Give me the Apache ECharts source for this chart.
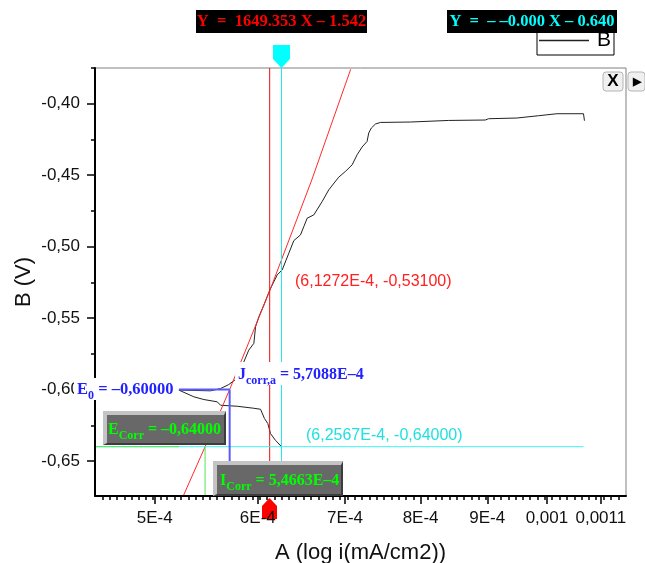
<!DOCTYPE html>
<html>
<head>
<meta charset="utf-8">
<style>html,body{margin:0;padding:0;background:#fff}#c{width:645px;height:563px}</style>
<script src="https://cdn.jsdelivr.net/npm/echarts@6/dist/echarts.min.js"></script>
</head>
<body>
<div id="c"></div>
<script>
// Values (x = current in mA/cm2, y = potential in V)
const curveX = [6.2567,6.190,6.136,6.107,6.071,6.029,5.958,5.786,5.618,5.585,5.455,5.359,5.219,5.22,5.519,5.618,5.700,5.768,5.847,5.905,5.958,5.976,6.011,6.064,6.128,6.209,6.264,6.338,6.394,6.470,6.508,6.547,6.624,6.722,6.801,6.922,7.004,7.088,7.151,7.214,7.278,7.299,7.333,7.386,7.451,7.857,8.406,8.968,9.021,9.484,9.853,10.178,10.668,10.686];
const curveY = [-0.6400,-0.6355,-0.6308,-0.6238,-0.6203,-0.6138,-0.6131,-0.6117,-0.6110,-0.6086,-0.6070,-0.6051,-0.6004,-0.6000,-0.6009,-0.5993,-0.5965,-0.5930,-0.5817,-0.5724,-0.5677,-0.5561,-0.5491,-0.5409,-0.5304,-0.5198,-0.5163,-0.5046,-0.4958,-0.4918,-0.4860,-0.4801,-0.4778,-0.4685,-0.4603,-0.4514,-0.4474,-0.4428,-0.4357,-0.4303,-0.4264,-0.4205,-0.4170,-0.4142,-0.4131,-0.4128,-0.4117,-0.4114,-0.4105,-0.4100,-0.4084,-0.4070,-0.4070,-0.4119];
const fitX = [5.26,5.4663,5.7088,6.1272,6.6,7.07];
const fitY = [-0.6744,-0.6400,-0.6000,-0.5310,-0.4534,-0.3759];
const xMin = 4.5e-4, xMax = 1.15e-3, yMin = -0.6745, yMax = -0.375;
const xTickValues = [5e-4,6e-4,7e-4,8e-4,9e-4,1e-3,1.1e-3];
const xTickLabels = ['5E-4','6E-4','7E-4','8E-4','9E-4','0,001','0,0011'];
const yTickValues = [-0.65,-0.60,-0.55,-0.50,-0.45,-0.40];
const yTickLabels = ['-0,65','-0,60','-0,55','-0,50','-0,45','-0,40'];
const yMinorTicks = [-0.625,-0.575,-0.525,-0.475,-0.425,-0.375];
const xMinorTicks = [4.56,4.62,4.68,4.74,4.80,4.86,4.92,4.98,5.05,5.11,5.18,5.24,5.31,5.38,5.44,5.51,5.58,5.65,5.73,5.80,5.87,5.95,6.02,6.10,6.18,6.26,6.34,6.42,6.51,6.59,6.68,6.76,6.85,6.94,7.03,7.12,7.21,7.31,7.40,7.50,7.60,7.69,7.79,7.90,8.00,8.10,8.21,8.31,8.42,8.53,8.64,8.75,8.87,8.98,9.10,9.22,9.34,9.46,9.58,9.71,9.84,9.96,10.09,10.23,10.36,10.50,10.63,10.77,10.91,11.05,11.20,11.35];
const E0 = -0.60, Ecorr = -0.64, Icorr = 5.4663, IcorrA = 5.7088, redX = 6.1272, cyanX = 6.2567;

const scale = v => v * 1e-4;
const pairs = (xs, ys) => xs.map((x, i) => [scale(x), ys[i]]);
const seg = (name, color, width, data) => ({name, type:'line', data, showSymbol:false, symbol:'none', silent:true, clip:true,
  lineStyle:{color, width}, itemStyle:{color}, z:3, animation:false});

const sans = '"Liberation Sans", Arial, sans-serif';
const serif = '"Liberation Serif", "Times New Roman", serif';

const chart = echarts.init(document.getElementById('c'), null, {renderer:'canvas'});

function badge(x, y, w, h, bg, fg, text) {
  return [
    {type:'rect', z:100, shape:{x, y, width:w, height:h}, style:{fill:bg}},
    {type:'text', z:101, x:x+w/2, y:y+h/2, style:{text, fill:fg, font:'bold 16.5px '+serif, align:'center', verticalAlign:'middle'}}
  ];
}
function richText(x, y, w, h, color, bg, a, sub, b, size) {
  const els = [];
  if (bg) els.push({type:'rect', z:100, shape:{x:x-3, y, width:w, height:h}, style:{fill:bg}});
  els.push({type:'text', z:101, x, y:y+h/2, style:{
    text:`{a|${a}}{s|${sub}}{a|${b}}`, verticalAlign:'middle', align:'left',
    rich:{
      a:{fill:color, font:`bold ${size}px ${serif}`, lineHeight:18, verticalAlign:'bottom'},
      s:{fill:color, font:`bold ${Math.round(size*0.72)}px ${serif}`, lineHeight:13, verticalAlign:'bottom', padding:[0,0,-4,0]}
    }}});
  return els;
}
function bevelBox(x, y, w, h) {
  return [
    {type:'rect', z:100, shape:{x, y, width:w, height:h}, style:{fill:'#3c3c3c'}},
    {type:'polygon', z:100, shape:{points:[[x,y],[x+w,y],[x+w-2,y+4],[x+4,y+4],[x+4,y+h-2],[x,y+h]]}, style:{fill:'#c4c4c4'}},
    {type:'rect', z:100, shape:{x:x+4, y:y+4, width:w-6, height:h-6}, style:{fill:'#686868'}}
  ];
}
const btn = (x, w, glyph, size) => [
  {type:'rect', z:100, shape:{x, y:72, width:w, height:19, r:3}, style:{fill:'#f0f0f0', stroke:'#b4b4b4', lineWidth:1}},
  {type:'text', z:101, x:x+w/2, y:81.5, style:{text:glyph, fill:'#000', font:`bold ${size}px ${sans}`, align:'center', verticalAlign:'middle'}}
];

const graphics = [
  ...badge(196, 10, 171, 23, '#000', '#ff0000', 'Y  =  1649.353 X \u2013 1.542'),
  ...badge(447, 10, 170, 23, '#000', '#00ffff', 'Y  =  \u2013 \u20130.000 X \u2013 0.640'),
  {type:'polygon', z:1, shape:{points:[[273,45],[290,45],[290,59],[281.5,68],[273,59]]}, style:{fill:'#00ffff'}},
  {type:'polygon', z:1, shape:{points:[[269.5,498],[277,506],[277,519],[262,519],[262,506]]}, style:{fill:'#ff0000'}},
  ...btn(603, 20, 'X', 17),
  ...btn(628, 17, '\u25B6', 11),
  ...richText(77, 378, 100, 22, '#2222ff', '#fff', 'E', '0', ' = \u20130,60000', 16.5),
  ...richText(238, 362, 128, 23, '#2222ff', '#fff', 'J', 'corr,a', ' = 5,7088E\u20134', 16),
  ...bevelBox(103, 411, 123, 34),
  ...richText(108, 413, 115, 32, '#00ff00', null, 'E', 'Corr', ' = \u20130,64000', 16),
  ...bevelBox(213, 461, 130, 35),
  ...richText(220, 463, 122, 33, '#00ff00', null, 'I', 'Corr', ' = 5,4663E\u20134', 16),
  {type:'text', z:50, x:295, y:282, style:{text:'(6,1272E-4, -0,53100)', fill:'#ff2020', font:'16px '+sans, align:'left', verticalAlign:'middle'}},
  {type:'text', z:50, x:306, y:436, style:{text:'(6,2567E-4, -0,64000)', fill:'#20e0e0', font:'16px '+sans, align:'left', verticalAlign:'middle'}}
];

chart.setOption({
  animation:false,
  backgroundColor:'#fff',
  grid:{left:95, top:68, right:19, bottom:67, show:true, borderColor:'#808080', borderWidth:1, backgroundColor:'transparent', outerBoundsMode:'none'},
  legend:{data:[{name:'B', icon:'rect'}], left:537, top:25, itemWidth:50, itemHeight:1.5, itemGap:0, padding:[5,3,4,2],
    backgroundColor:'#fff', borderColor:'#000', borderWidth:1,
    textStyle:{fontFamily:sans, fontSize:21, color:'#000', padding:[0,0,0,3]}},
  xAxis:[
    {type:'log', logBase:10, min:xMin, max:xMax, position:'bottom', z:5, name:'A (log i(mA/cm2))', nameLocation:'middle', nameGap:46,
     nameTextStyle:{fontFamily:sans, fontSize:22, color:'#111'},
     splitLine:{show:false}, minorTick:{show:false},
     axisLine:{show:true, lineStyle:{color:'#000', width:2}},
     axisTick:{show:true, length:8, inside:false, customValues:xTickValues, lineStyle:{color:'#000', width:1.5}},
     axisLabel:{show:true, customValues:xTickValues, margin:14, fontFamily:sans, fontSize:17, color:'#111', hideOverlap:false,
       formatter:v => { const i = xTickValues.findIndex(t => Math.abs(t - v) < 1e-7); return i >= 0 ? xTickLabels[i] : ''; }}},
    {type:'log', logBase:10, min:xMin, max:xMax, position:'bottom', z:5,
     splitLine:{show:false}, minorTick:{show:false},
     axisLine:{show:false},
     axisTick:{show:true, length:4, inside:false, customValues:xMinorTicks.map(scale), lineStyle:{color:'#000', width:1.5}},
     axisLabel:{show:false}}
  ],
  yAxis:[
    {type:'value', min:yMin, max:yMax, position:'left', z:5, name:'B (V)', nameLocation:'middle', nameGap:60, nameRotate:90, nameMoveOverlap:false,
     nameTextStyle:{fontFamily:sans, fontSize:22, color:'#111'},
     splitLine:{show:false},
     axisLine:{show:true, onZero:false, lineStyle:{color:'#000', width:2}},
     axisTick:{show:true, length:8, customValues:yTickValues, lineStyle:{color:'#000', width:1.5}},
     axisLabel:{show:true, customValues:yTickValues, margin:15, fontFamily:sans, fontSize:17, color:'#111',
       formatter:v => { const i = yTickValues.findIndex(t => Math.abs(t - v) < 1e-6); return i >= 0 ? yTickLabels[i] : ''; }}},
    {type:'value', min:yMin, max:yMax, position:'left', z:5,
     splitLine:{show:false}, axisLine:{show:false, onZero:false},
     axisTick:{show:true, length:4, customValues:yMinorTicks, lineStyle:{color:'#000', width:1.5}},
     axisLabel:{show:false}}
  ],
  series:[
    seg('B', '#222', 1, pairs(curveX, curveY)),
    seg('fit', '#ff2a2a', 1, pairs(fitX, fitY)),
    seg('red cursor', '#e81010', 1, [[scale(redX), yMin],[scale(redX), yMax]]),
    seg('cyan cursor', '#20e8e8', 1, [[scale(cyanX), yMin],[scale(cyanX), yMax]]),
    seg('cyan level', '#40f0f0', 1, [[xMin, Ecorr],[scale(10.668), Ecorr]]),
    seg('green level', '#50e850', 1, [[xMin, Ecorr],[scale(5.22), Ecorr]]),
    seg('green drop', '#50e850', 1, [[scale(Icorr), yMin],[scale(Icorr), Ecorr]]),
    seg('blue drop', '#5a5aff', 2, [[scale(IcorrA), yMin],[scale(IcorrA), E0]]),
    seg('blue level', '#5a5aff', 2, [[scale(5.22), E0],[scale(IcorrA), E0]])
  ],
  graphic:{elements:graphics}
});
</script>
</body>
</html>
